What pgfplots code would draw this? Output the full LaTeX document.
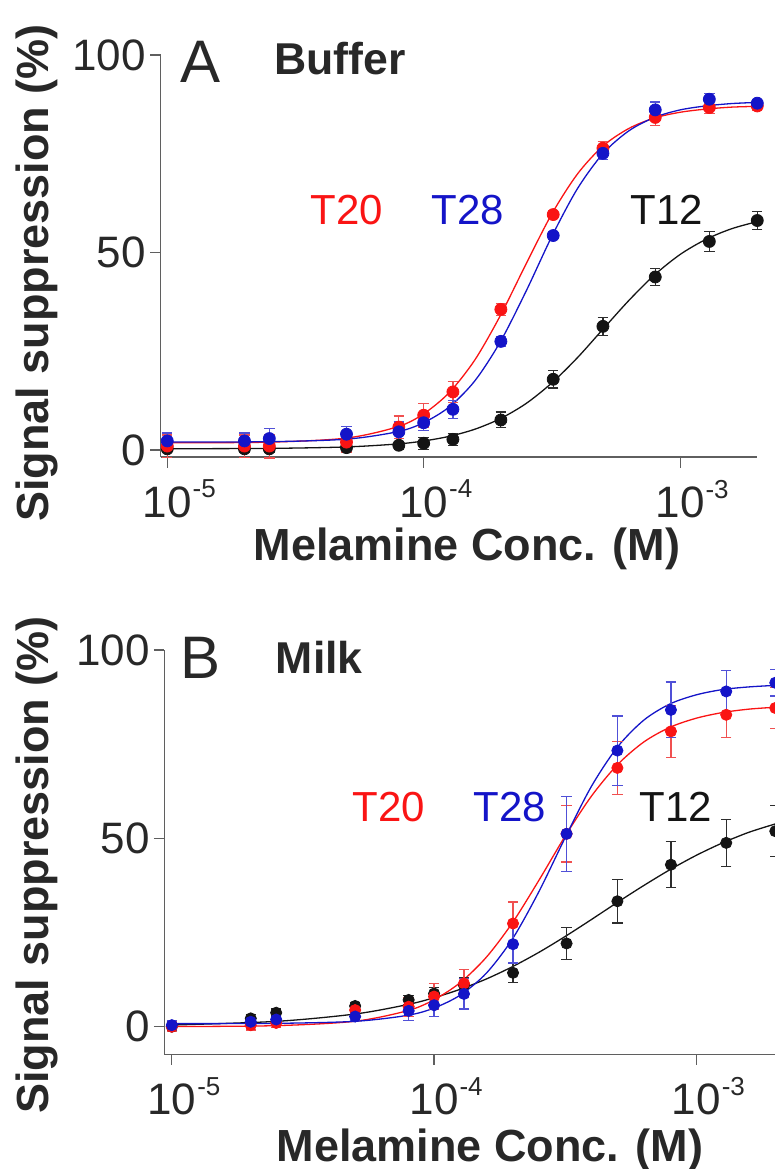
\documentclass[border=0pt]{standalone}
\usepackage{fontspec}
\setmainfont{Liberation Sans}
\usepackage{pgfplots}
\usepackage{pgfplotstable}
\pgfplotsset{compat=1.18}

\definecolor{cred}{RGB}{250,20,20}
\definecolor{cblue}{RGB}{20,20,200}
\definecolor{cblk}{RGB}{20,20,20}
\definecolor{ebred}{RGB}{240,80,80}
\definecolor{ebblue}{RGB}{80,80,215}
\definecolor{ebblk}{RGB}{45,45,45}
\definecolor{cgray}{RGB}{95,95,95}
\definecolor{ctxt}{RGB}{40,40,40}

\newcommand{\dec}[1]{10\rlap{\kern0.5pt\raisebox{9.7pt}{\fontsize{13}{13}\selectfont #1}}}

% buffer data: conc, mean, error
\pgfplotstableread{
x y e
1e-5 0.3 0.8
2e-5 0.3 0.8
2.5e-5 0.3 0.8
5e-5 0.6 0.8
8e-5 1.2 1.0
1e-4 1.7 1.5
1.3e-4 2.7 1.5
2e-4 7.6 2.0
3.2e-4 17.9 2.2
5e-4 31.3 2.3
8e-4 43.8 2.2
1.3e-3 52.8 2.5
2e-3 58.1 2.2
}\TtwelveA
\pgfplotstableread{
x y e
1e-5 1.0 2.8
2e-5 1.0 2.8
2.5e-5 1.0 3.0
5e-5 2.0 2.5
8e-5 5.8 2.8
1e-4 8.8 3.0
1.3e-4 14.7 2.6
2e-4 35.6 1.5
3.2e-4 59.6 1.0
5e-4 76.4 1.7
8e-4 84.2 2.0
1.3e-3 86.7 1.5
2e-3 87.1 1.2
}\TtwentyA
\pgfplotstableread{
x y e
1e-5 2.3 2.0
2e-5 2.3 2.0
2.5e-5 2.9 2.5
5e-5 4.0 2.0
8e-5 4.6 2.5
1e-4 6.9 2.0
1.3e-4 10.3 2.3
2e-4 27.5 1.3
3.2e-4 54.3 1.0
5e-4 75.1 1.5
8e-4 86.1 2.0
1.3e-3 88.8 1.5
2e-3 87.8 1.0
}\TtwentyeightA

% milk data
\pgfplotstableread{
x y e
1e-5 0.0 1.0
2e-5 2.2 1.0
2.5e-5 3.7 1.0
5e-5 5.5 1.0
8e-5 7.1 1.2
1e-4 8.8 1.5
1.3e-4 11.0 2.0
2e-4 14.3 2.5
3.2e-4 22.1 4.2
5e-4 33.3 5.8
8e-4 43.0 6.1
1.3e-3 48.8 6.3
2e-3 51.9 6.8
}\TtwelveB
\pgfplotstableread{
x y e
1e-5 0.0 1.3
2e-5 0.4 1.3
2.5e-5 1.0 1.3
5e-5 4.4 1.5
8e-5 5.3 2.5
1e-4 8.0 3.5
1.3e-4 11.5 3.7
2e-4 27.4 5.7
3.2e-4 51.2 7.5
5e-4 68.7 7.0
8e-4 78.4 6.9
1.3e-3 82.8 6.0
2e-3 84.6 5.5
}\TtwentyB
\pgfplotstableread{
x y e
1e-5 0.4 1.3
2e-5 1.3 1.0
2.5e-5 1.9 1.0
5e-5 2.7 1.0
8e-5 4.2 2.5
1e-4 5.7 3.0
1.3e-4 8.7 4.0
2e-4 21.9 5.0
3.2e-4 51.2 10.0
5e-4 73.3 9.2
8e-4 84.1 7.4
1.3e-3 89.0 5.5
2e-3 91.3 3.5
}\TtwentyeightB

% fitted curves
\pgfplotstableread{
x t12a t20a t28a t12b t20b t28b
1.000e-5 0.32 1.82 2.01 0.44 0.03 0.81
2.512e-5 0.41 1.99 2.11 1.42 0.28 0.89
5.012e-5 0.78 3.03 2.75 3.38 1.46 1.43
7.943e-5 1.54 5.92 4.66 5.89 4.27 3.03
1.000e-4 2.29 9.17 6.93 7.69 7.16 4.96
1.259e-4 3.46 14.56 10.92 9.94 11.72 8.40
1.585e-4 5.27 22.85 17.55 12.69 18.5 14.26
1.995e-4 7.97 34.14 27.5 15.97 27.7 23.4
2.512e-4 11.8 47.2 40.3 19.75 38.9 35.9
3.162e-4 17.0 59.8 54.1 23.96 50.6 50.2
3.981e-4 23.4 69.9 66.2 28.45 61.2 63.8
5.012e-4 30.65 77.0 75.1 33.05 69.6 74.3
6.310e-4 37.85 81.4 80.8 37.5 75.6 81.4
7.943e-4 44.3 84.05 84.2 41.7 79.5 85.7
1.000e-3 49.5 85.5 86.1 45.5 81.9 88.1
1.259e-3 53.3 86.3 87.1 48.8 83.4 89.5
1.585e-3 56.0 86.8 87.7 51.6 84.3 90.2
1.995e-3 57.8 87.0 88.0 53.8 84.8 90.6
}\curves

\begin{document}
\begin{tikzpicture}

\begin{axis}[at={(80.35pt,356pt)}, anchor=south west,
  scale only axis, width=298.15pt, height=201pt,
  xmode=log, xmin=9.426e-6, xmax=1.995e-3, ymin=-1.77, ymax=100,
  axis x line*=bottom, axis y line*=left,
  axis line style={cgray, line width=0.7pt},
  tick align=outside, major tick length=5.3pt,
  tick style={cgray, line width=0.6pt},
  xtick={1e-5,1e-4,1e-3}, xminorticks=false,
  xticklabels={\dec{-5},\dec{-4},\dec{-3}},
  ytick={0,50,100}, yticklabels={0,50,100},
  tick label style={font=\fontsize{22}{22}\selectfont, text=ctxt, inner sep=0pt},
  xticklabel style={yshift=-6pt},
  yticklabel style={xshift=-2pt},
  clip=false]
\addplot[no marks, smooth, line width=0.65pt, cblk] table[x=x, y=t12a] {\curves};
\addplot[no marks, smooth, line width=0.65pt, cred] table[x=x, y=t20a] {\curves};
\addplot[no marks, smooth, line width=0.65pt, cblue] table[x=x, y=t28a] {\curves};
\addplot[only marks, mark=*, mark size=3pt, cblk,
  error bars/.cd, y dir=both, y explicit,
  error bar style={ebblk, line width=0.6pt},
  error mark options={rotate=90, ebblk, mark size=2.6pt, line width=0.6pt}]
  table[x=x, y=y, y error=e] {\TtwelveA};
\addplot[only marks, mark=*, mark size=3pt, cred,
  error bars/.cd, y dir=both, y explicit,
  error bar style={ebred, line width=0.6pt},
  error mark options={rotate=90, ebred, mark size=2.6pt, line width=0.6pt}]
  table[x=x, y=y, y error=e] {\TtwentyA};
\addplot[only marks, mark=*, mark size=3pt, cblue,
  error bars/.cd, y dir=both, y explicit,
  error bar style={ebblue, line width=0.6pt},
  error mark options={rotate=90, ebblue, mark size=2.6pt, line width=0.6pt}]
  table[x=x, y=y, y error=e] {\TtwentyeightA};
\end{axis}

\begin{axis}[at={(82.25pt,57.35pt)}, anchor=south west,
  scale only axis, width=305.25pt, height=202.15pt,
  xmode=log, xmin=9.376e-6, xmax=1.995e-3, ymin=-7.33, ymax=100,
  axis x line*=bottom, axis y line*=left,
  axis line style={cgray, line width=0.7pt},
  tick align=outside, major tick length=5.3pt,
  tick style={cgray, line width=0.6pt},
  xtick={1e-5,1e-4,1e-3}, xminorticks=false,
  xticklabels={\dec{-5},\dec{-4},\dec{-3}},
  ytick={0,50,100}, yticklabels={0,50,100},
  tick label style={font=\fontsize{22}{22}\selectfont, text=ctxt, inner sep=0pt},
  xticklabel style={yshift=-6pt},
  yticklabel style={xshift=-2pt},
  clip=false]
\addplot[no marks, smooth, line width=0.65pt, cblk] table[x=x, y=t12b] {\curves};
\addplot[no marks, smooth, line width=0.65pt, cred] table[x=x, y=t20b] {\curves};
\addplot[no marks, smooth, line width=0.65pt, cblue] table[x=x, y=t28b] {\curves};
\addplot[only marks, mark=*, mark size=2.8pt, cblk,
  error bars/.cd, y dir=both, y explicit,
  error bar style={ebblk, line width=0.6pt},
  error mark options={rotate=90, ebblk, mark size=2.6pt, line width=0.6pt}]
  table[x=x, y=y, y error=e] {\TtwelveB};
\addplot[only marks, mark=*, mark size=2.8pt, cred,
  error bars/.cd, y dir=both, y explicit,
  error bar style={ebred, line width=0.6pt},
  error mark options={rotate=90, ebred, mark size=2.6pt, line width=0.6pt}]
  table[x=x, y=y, y error=e] {\TtwentyB};
\addplot[only marks, mark=*, mark size=2.8pt, cblue,
  error bars/.cd, y dir=both, y explicit,
  error bar style={ebblue, line width=0.6pt},
  error mark options={rotate=90, ebblue, mark size=2.6pt, line width=0.6pt}]
  table[x=x, y=y, y error=e] {\TtwentyeightB};
\end{axis}

\begin{scope}[x=0.5pt, y=0.5pt, inner sep=0pt]
\node[font=\fontsize{30}{30}\selectfont, text=ctxt] at (200.6,1107.3) {A};
\node[font=\bfseries\fontsize{22.3}{22.3}\selectfont, text=ctxt, anchor=west] at (273.7,1110) {Buffer};
\node[font=\fontsize{21}{21}\selectfont, text=cred] at (347,959) {T20};
\node[font=\fontsize{21}{21}\selectfont, text=cblue] at (468,959) {T28};
\node[font=\fontsize{21}{21}\selectfont, text=cblk] at (667,959) {T12};

\node[font=\fontsize{30}{30}\selectfont, text=ctxt] at (200.6,511.5) {B};
\node[font=\bfseries\fontsize{22.3}{22.3}\selectfont, text=ctxt, anchor=west] at (275.5,512) {Milk};
\node[font=\fontsize{21}{21}\selectfont, text=cred] at (389,362) {T20};
\node[font=\fontsize{21}{21}\selectfont, text=cblue] at (510,362) {T28};
\node[font=\fontsize{21}{21}\selectfont, text=cblk] at (676,362) {T12};

\node[font=\bfseries\fontsize{22.5}{22.5}\selectfont, text=ctxt, rotate=90, anchor=base] at (49,896) {Signal suppression (\%)};
\node[font=\bfseries\fontsize{22.5}{22.5}\selectfont, text=ctxt, rotate=90, anchor=base] at (49,304) {Signal suppression (\%)};
\node[font=\bfseries\fontsize{22.5}{22.5}\selectfont, text=ctxt, anchor=base] at (467,608) {Melamine Conc. (M)};
\node[font=\bfseries\fontsize{22.5}{22.5}\selectfont, text=ctxt, anchor=base] at (490,8) {Melamine Conc. (M)};
\end{scope}

\pgfresetboundingbox
\path[use as bounding box] (0pt,0pt) rectangle (387.5pt,584.5pt);
\end{tikzpicture}
\end{document}
